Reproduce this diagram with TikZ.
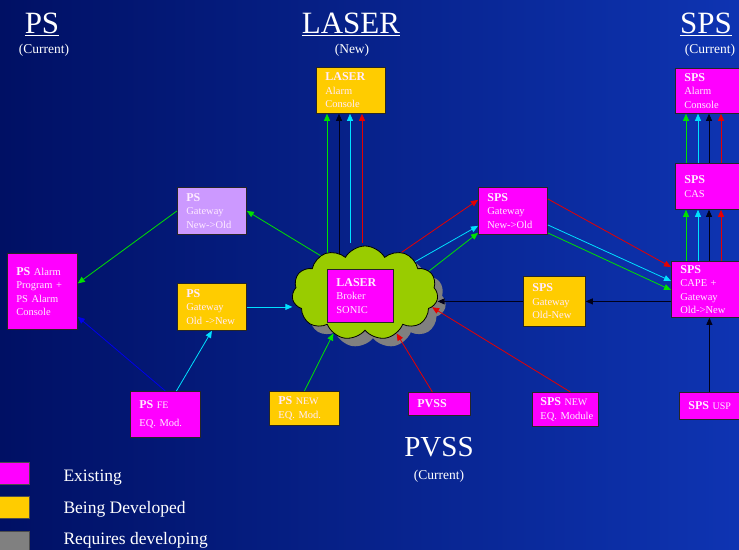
\documentclass[tikz,border=0pt]{standalone}
\usepackage{fontspec}
\setmainfont{Liberation Serif}
\usetikzlibrary{arrows.meta,shapes.symbols,shadows,calc}
\definecolor{exmag}{RGB}{255,0,255}
\definecolor{devyel}{RGB}{255,204,0}
\definecolor{gwlilac}{RGB}{204,153,255}
\definecolor{cloudgrn}{RGB}{153,204,0}
\definecolor{reqgrey}{RGB}{128,128,128}
\definecolor{lgreen}{RGB}{0,225,0}
\definecolor{lcyan}{RGB}{0,225,255}
\definecolor{lred}{RGB}{230,0,0}
\definecolor{lblue}{RGB}{0,0,235}
\definecolor{lblack}{RGB}{0,0,25}
\definecolor{bgleft}{RGB}{0,16,100}
\definecolor{bgright}{RGB}{14,52,178}
\definecolor{boxtxt}{RGB}{255,235,255}
\pgfdeclarelayer{bg}
\pgfdeclarelayer{wires}
\pgfsetlayers{bg,wires,main}
\newcommand{\hd}[1]{{\fontsize{12}{13.5}\selectfont\bfseries #1}}
\newcommand{\sm}[1]{{\fontsize{10}{13.5}\selectfont #1}}
\tikzset{
  box/.style={draw=black!85, line width=.8pt, anchor=north west, align=left,
    inner xsep=9pt, inner ysep=2pt, text=boxtxt, font=\fontsize{10.5}{13.5}\selectfont},
  arr/.style={-{Triangle[length=7pt,width=6pt]}, line width=.8pt},
  headtxt/.style={text=white, font=\fontsize{31}{31}\selectfont},
  subtxt/.style={text=white, font=\fontsize{13.5}{14}\selectfont},
  legbox/.style={draw=black!70, line width=.6pt, minimum width=30pt, minimum height=22pt,
    anchor=north west, inner sep=0pt},
  legtxt/.style={text=white, anchor=west, font=\fontsize{17.5}{18}\selectfont},
}
\begin{document}
\begin{tikzpicture}[x=1pt,y=-1pt]
\useasboundingbox (0,0) rectangle (739,549);
\begin{pgfonlayer}{bg}
  \shade[left color=bgleft, right color=bgright] (0,0) rectangle (739,549);
\end{pgfonlayer}

% headings
\node[headtxt] (pshead) at (42,24) {\underline{PS}};
\node[subtxt] (pscur) at (44,50) {(Current)};
\node[headtxt] (laserhead) at (351,24) {\underline{LASER}};
\node[subtxt] (lasernew) at (352,50) {(New)};
\node[headtxt] (spshead) at (706,24) {\underline{SPS}};
\node[subtxt] (spscur) at (710,50) {(Current)};
\node[headtxt, font=\fontsize{29}{29}\selectfont] (pvsshead) at (439,447) {PVSS};
\node[subtxt] (pvsscur) at (439,476) {(Current)};

% boxes
\node[box, fill=devyel, text width=51pt, minimum height=46pt] (laserac) at (316,67) {\hd{LASER}\\Alarm\\Console};
\node[box, fill=exmag, text width=52pt, minimum height=45pt] (spsac) at (675,68) {\hd{SPS}\\Alarm\\Console};
\node[box, fill=exmag, text width=52pt, minimum height=46pt] (spscas) at (675,163) {\hd{SPS}\\CAS};
\node[box, fill=exmag, text width=52pt, minimum height=56pt] (spscape) at (671,261) {\hd{SPS}\\CAPE +\\Gateway\\Old->New};
\node[box, fill=gwlilac, text width=51pt, minimum height=47pt] (psgwno) at (177,187) {\hd{PS}\\Gateway\\New->Old};
\node[box, fill=exmag, text width=52pt, minimum height=76pt] (psalarm) at (7,253) {\hd{PS} Alarm\\Program +\\PS Alarm\\Console};
\node[box, fill=devyel, text width=51pt, minimum height=47pt] (psgwon) at (177,283) {\hd{PS}\\Gateway\\Old ->New};

% broker cloud
\node[cloud, cloud puffs=11, cloud puff arc=120, aspect=1.55, minimum width=146pt,
  minimum height=94pt, inner sep=0pt, draw=black, line width=.8pt, fill=cloudgrn,
  copy shadow={shadow xshift=8pt, shadow yshift=-8pt, fill=reqgrey, draw=none}] (cloud) at (365,293) {};
\node[box, fill=exmag, text width=48pt, minimum height=53pt] (broker) at (327,269) {\hd{LASER}\\Broker\\SONIC};

\node[box, fill=exmag, text width=51pt, minimum height=47pt] (spsgwno) at (478,187) {\hd{SPS}\\Gateway\\New->Old};
\node[box, fill=devyel, text width=44pt, minimum height=50pt] (spsgwon) at (523,276) {\hd{SPS}\\Gateway\\Old-New};

\node[box, fill=exmag, text width=52pt, minimum height=46pt] (psfe) at (130,391) {\hd{PS} \sm{FE}\\[4pt]EQ. Mod.};
\node[box, fill=devyel, text width=52pt, minimum height=34pt] (psnew) at (269,391) {\hd{PS} \sm{NEW}\\EQ. Mod.};
\node[box, fill=exmag, text width=44pt, minimum height=23pt] (pvss) at (408,392) {\hd{PVSS}};
\node[box, fill=exmag, text width=50pt, minimum height=34pt, inner xsep=8pt] (spsnew) at (532,392) {\hd{SPS} \sm{NEW}\\\mbox{EQ. Module}};
\node[box, fill=exmag, text width=48pt, minimum height=27pt] (spsusp) at (679,392) {\hd{SPS} \sm{USP}};

% to the consoles
\begin{pgfonlayer}{wires}
\foreach \dx/\col/\dy in {11/lgreen/12, 23/lblack/10, 34/lcyan/-3, 46/lred/-3}
  \draw[arr,\col] ($(laserac.south west |- cloud.north)+(\dx,\dy)$) -- ([xshift=\dx pt]laserac.south west);
\end{pgfonlayer}
\foreach \dx/\col in {11/lgreen, 23/lcyan, 34/lblack, 46/lred}{
  \draw[arr,\col] ([xshift=\dx pt]spscas.north west) -- ([xshift=\dx pt]spsac.south west);
  \draw[arr,\col] ($(spscas.south west |- spscape.north)+(\dx,0)$) -- ([xshift=\dx pt]spscas.south west);
}

% PS side
\draw[arr,lgreen] (cloud.140) -- (psgwno.east);
\draw[arr,lgreen] (psgwno.west) -- ([yshift=8pt]psalarm.east);
\draw[arr,lblue] (psfe.north) -- ([yshift=13pt]psalarm.south east);
\draw[arr,lcyan] ([xshift=11pt]psfe.north) -- (psgwon.south);
\draw[arr,lcyan] (psgwon.east) -- (psgwon.east -| cloud.west);
\draw[arr,lgreen] (psnew.north) -- (cloud.232);

% PVSS
\draw[arr,lred] ([xshift=-7pt]pvss.north) -- (cloud.-52);
\draw[arr,lred] ([xshift=5pt]spsnew.north) -- (cloud.-12);

% SPS side
\draw[arr,lblack] (spsgwon.west) -- (spsgwon.west -| cloud.east);
\draw[arr,lblack] (spscape.west |- spsgwon.west) -- (spsgwon.east);
\draw[arr,lblack] ($(spscape.south |- spsusp.north)+(3,0)$) -- ([xshift=3pt]spscape.south);
\draw[arr,lred] (cloud.48) -- ([yshift=11pt]spsgwno.west);
\draw[arr,lcyan] (cloud.32) -- ([yshift=-15pt]spsgwno.west);
\draw[arr,lgreen] (cloud.19) -- ([yshift=-22pt]spsgwno.west);
\draw[arr,lred] ([yshift=12pt]spsgwno.east) -- ([yshift=-6pt]spscape.north west);
\draw[arr,lcyan] ([yshift=-14pt]spsgwno.east) -- ([yshift=-20pt]spscape.north west);
\draw[arr,lgreen] ([yshift=-22pt]spsgwno.east) -- ([yshift=-29pt]spscape.north west);

% legend
\node[legbox, fill=exmag] (legex) at (-1,462) {};
\node[legbox, fill=devyel] (legdev) at (-1,496) {};
\node[legbox, fill=reqgrey] (legreq) at (-1,531) {};
\node[legtxt] (legextxt) at (60,478) {Existing};
\node[legtxt] (legdevtxt) at (60,509) {Being Developed};
\node[legtxt] (legreqtxt) at (60,540) {Requires developing};
\end{tikzpicture}
\end{document}
